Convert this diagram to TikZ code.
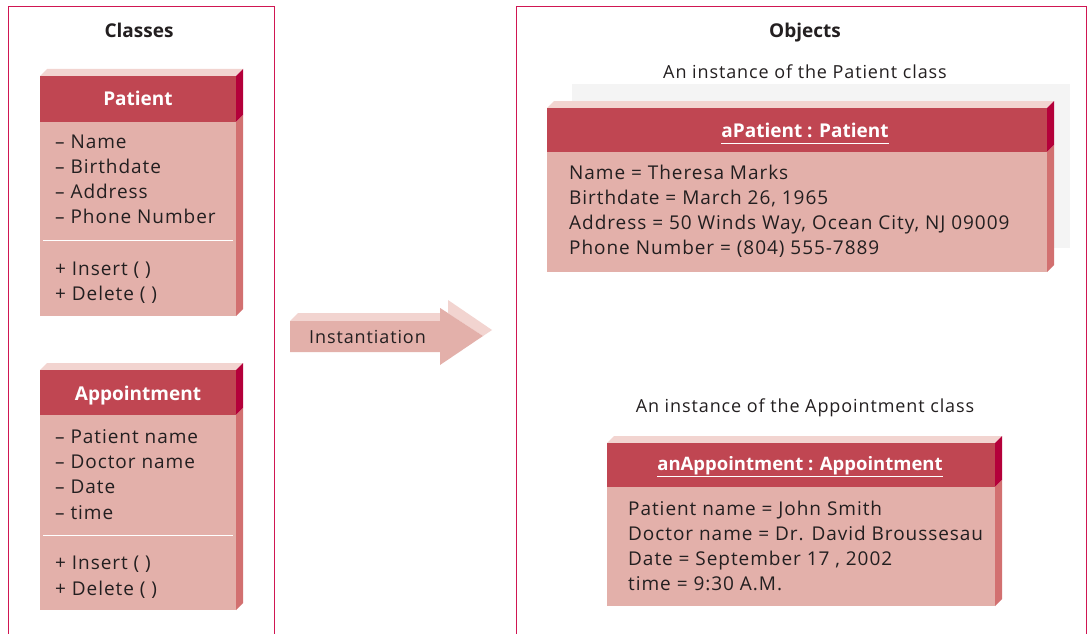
\documentclass[tikz,border=0pt]{standalone}
\usepackage{fontspec}
\setmainfont{Open Sans}
\newfontfamily\bodyfont[LetterSpace=5]{Open Sans}
\begin{document}
\definecolor{frameline}{RGB}{208,22,82}
\definecolor{headred}{RGB}{192,70,82}
\definecolor{headside}{RGB}{180,0,58}
\definecolor{bodypink}{RGB}{227,176,170}
\definecolor{bodyside}{RGB}{210,112,112}
\definecolor{topface}{RGB}{242,212,208}
\definecolor{ink}{RGB}{35,31,32}
\definecolor{shadowgray}{RGB}{244,244,244}
% 3D box: #1 left, #2 top of header, #3 right, #4 header bottom, #5 box bottom
\newcommand{\slab}[5]{%
  \fill[topface] (#1,#2) -- (#1+7,#2-7) -- (#3+7,#2-7) -- (#3,#2) -- cycle;
  \fill[headside] (#3,#2) -- (#3+7,#2-7) -- (#3+7,#4-7) -- (#3,#4) -- cycle;
  \fill[bodyside] (#3,#4) -- (#3+7,#4-7) -- (#3+7,#5-7) -- (#3,#5) -- cycle;
  \fill[headred] (#1,#2) rectangle (#3,#4);
  \fill[bodypink] (#1,#4) rectangle (#3,#5);
}
\begin{tikzpicture}[x=1pt,y=-1pt,
  every node/.style={inner sep=0pt, text=ink},
  heading/.style={anchor=base, font=\bfseries\fontsize{19}{22}\selectfont},
  caption/.style={anchor=base, font=\bodyfont\fontsize{18}{22}\selectfont},
  title/.style={anchor=base, font=\bfseries\fontsize{19}{22}\selectfont, text=white},
  attr/.style={anchor=base west, font=\bodyfont\fontsize{19}{22}\selectfont},
  divider/.style={white, line width=1pt}]
\useasboundingbox (0,0) rectangle (1090,634);
\fill[white] (0,0) rectangle (1090,634);

% frames
\draw[frameline, line width=1pt] (8,640) -- (8,7) -- (274,7) -- (274,640);
\draw[frameline, line width=1pt] (516,640) -- (516,7) -- (1086,7) -- (1086,640);
\node[heading] (classes) at (139,38) {Classes};
\node[heading] (objects) at (805,38) {Objects};

% Patient class
\slab{40}{76}{236}{122}{316}
\node[title] (patient) at (138,106) {Patient};
\node[attr] (p1) at (55,148) {– Name};
\node[attr] (p2) at (55,173) {– Birthdate};
\node[attr] (p3) at (55,198) {– Address};
\node[attr] (p4) at (55,223) {– Phone Number};
\draw[divider] (43,240) -- (233,240);
\node[attr] (p5) at (55,275) {+ Insert ( )};
\node[attr] (p6) at (55,300) {+ Delete ( )};

% Appointment class
\slab{40}{370}{236}{415}{610}
\node[title] (appt) at (138,400) {Appointment};
\node[attr] (a1) at (55,443) {– Patient name};
\node[attr] (a2) at (55,468) {– Doctor name};
\node[attr] (a3) at (55,493) {– Date};
\node[attr] (a4) at (55,519) {– time};
\draw[divider] (43,535) -- (233,535);
\node[attr] (a5) at (55,569) {+ Insert ( )};
\node[attr] (a6) at (55,595) {+ Delete ( )};

% instantiation arrow
\fill[topface] (290,321) -- (298,313) -- (448,313) -- (448,300) -- (492,330) -- (483,336) -- (440,308) -- (440,321) -- cycle;
\fill[bodypink] (290,321) -- (440,321) -- (440,308) -- (483,336) -- (440,365) -- (440,352) -- (290,352) -- cycle;
\node[caption, anchor=base west] (inst) at (309,343) {Instantiation};

% aPatient object
\fill[shadowgray] (572,84) rectangle (1070,248);
\node[caption] (cap1) at (805,78) {An instance of the Patient class};
\slab{547}{108}{1047}{152}{272}
\node[title] (ap) at (805,137) {aPatient : Patient};
\draw[divider] ([yshift=-6pt]ap.base west) -- ([yshift=-6pt]ap.base east);
\node[attr] (o1) at (569,179) {Name = Theresa Marks};
\node[attr] (o2) at (569,204) {Birthdate = March 26, 1965};
\node[attr] (o3) at (569,229) {Address = 50 Winds Way, Ocean City, NJ 09009};
\node[attr] (o4) at (569,254) {Phone Number = (804) 555-7889};

% anAppointment object
\node[caption] (cap2) at (805,412) {An instance of the Appointment class};
\slab{607}{443}{995}{487}{606}
\node[title, font=\bfseries\fontsize{18.5}{22}\selectfont] (aa) at (800,470) {anAppointment : Appointment};
\draw[divider] ([yshift=-6pt]aa.base west) -- ([yshift=-6pt]aa.base east);
\node[attr] (b1) at (628,515) {Patient name = John Smith};
\node[attr] (b2) at (628,540) {Doctor name = Dr. David Broussesau};
\node[attr] (b3) at (628,565) {Date = September 17 , 2002};
\node[attr] (b4) at (628,590) {time = 9:30 A.M.};
\end{tikzpicture}
\end{document}
